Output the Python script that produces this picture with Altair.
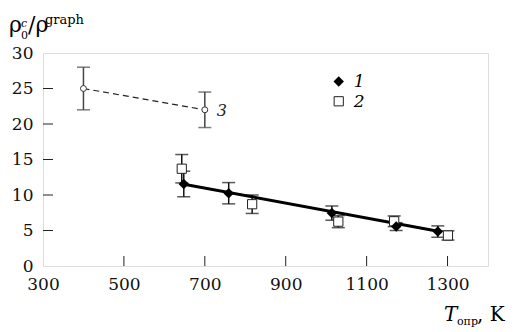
import altair as alt
import pandas as pd

# Series 1 (filled diamonds)
T1 = [648, 759, 1014, 1173, 1276]
v1 = [11.55, 10.25, 7.45, 5.55, 4.85]
e1 = [1.8, 1.5, 1.0, 0.55, 0.8]
# Series 2 (open squares)
T2 = [643, 817, 1030, 1168, 1301]
v2 = [13.7, 8.7, 6.25, 6.3, 4.3]
e2 = [2.0, 1.3, 0.85, 0.75, 0.65]
# Series 3 (open circles, dashed)
T3 = [400, 700]
v3 = [25.0, 22.0]
e3 = [3.0, 2.5]
# linear fit through series 1
fit_T = [645, 1280]
fit_v = [11.55, 4.85]

x_ticks = [300, 500, 700, 900, 1100, 1300]
y_ticks = [0, 5, 10, 15, 20, 25, 30]
legend_T = [1031, 1031]
legend_v = [26.0, 23.2]
legend_lbl = ["1", "2"]

FONT = "DejaVu Serif"
W, H = 445, 213

d1 = pd.DataFrame({"T": T1, "v": v1, "lo": [a - b for a, b in zip(v1, e1)], "hi": [a + b for a, b in zip(v1, e1)]})
d2 = pd.DataFrame({"T": T2, "v": v2, "lo": [a - b for a, b in zip(v2, e2)], "hi": [a + b for a, b in zip(v2, e2)]})
d3 = pd.DataFrame({"T": T3, "v": v3, "lo": [a - b for a, b in zip(v3, e3)], "hi": [a + b for a, b in zip(v3, e3)]})
dfit = pd.DataFrame({"T": fit_T, "v": fit_v})

xs = alt.Scale(domain=[300, 1400], nice=False, zero=False)
ys = alt.Scale(domain=[0, 30], nice=False, zero=False)

XAX = alt.Axis(values=x_ticks, title=None, ticks=False, grid=False, domain=False, format="d",
               labelFont=FONT, labelFontSize=17, labelColor="#111", labelPadding=10,
               labelFlush=False, labelOverlap=False)
YAX = alt.Axis(values=y_ticks, title=None, ticks=False, grid=False, domain=False, format="d",
               labelFont=FONT, labelFontSize=17, labelColor="#111", labelPadding=10,
               labelFlush=False, labelOverlap=False)


def X(f="T"):
    return alt.X(f + ":Q", scale=xs, axis=XAX)


def Y(f="v"):
    return alt.Y(f + ":Q", scale=ys, axis=YAX)


def errbars(df, color, width=13):
    base = alt.Chart(df)
    r = base.mark_rule(color=color, strokeWidth=1.5).encode(x=X(), y=Y("lo"), y2="hi:Q")
    t1 = base.mark_tick(color=color, orient="horizontal", size=width, thickness=1.5).encode(x=X(), y=Y("lo"))
    t2 = base.mark_tick(color=color, orient="horizontal", size=width, thickness=1.5).encode(x=X(), y=Y("hi"))
    return r + t1 + t2


xt = alt.Chart(pd.DataFrame({"T": x_ticks[1:]})).mark_rule(color="#222", strokeWidth=1).encode(
    x=X(), y=alt.value(H), y2=alt.value(H - 10))
yt = alt.Chart(pd.DataFrame({"v": y_ticks[1:-1]})).mark_rule(color="#222", strokeWidth=1).encode(
    y=Y(), x=alt.value(0), x2=alt.value(10))

line3 = alt.Chart(d3).mark_line(color="#222", strokeWidth=1.2, strokeDash=[6, 4]).encode(x=X(), y=Y())
pts3 = alt.Chart(d3).mark_point(shape="circle", size=35, filled=True, fill="white", stroke="#333",
                                strokeWidth=1, opacity=1).encode(x=X(), y=Y())

fit = alt.Chart(dfit).mark_line(color="black", strokeWidth=3).encode(x=X(), y=Y())

pts2 = alt.Chart(d2).mark_point(shape="square", size=85, filled=True, fill="white", stroke="#222",
                                strokeWidth=1, opacity=1).encode(x=X(), y=Y())
pts1 = alt.Chart(d1).mark_point(shape="diamond", size=110, filled=True, color="black", opacity=1).encode(x=X(), y=Y())

dleg = pd.DataFrame({"T": legend_T, "v": legend_v, "lbl": legend_lbl})
leg1 = alt.Chart(dleg.iloc[[0]]).mark_point(shape="diamond", size=110, filled=True, color="black", opacity=1).encode(x=X(), y=Y())
leg2 = alt.Chart(dleg.iloc[[1]]).mark_point(shape="square", size=85, filled=True, fill="white", stroke="#222",
                                            strokeWidth=1, opacity=1).encode(x=X(), y=Y())
legtxt = alt.Chart(dleg).mark_text(font=FONT, fontSize=17, fontStyle="italic", align="left", baseline="middle",
                                   dx=15, dy=1, color="black").encode(x=X(), y=Y(), text="lbl:N")

lbl3 = alt.Chart(pd.DataFrame({"T": [T3[1]], "v": [v3[1]], "lbl": ["3"]})).mark_text(
    font=FONT, fontSize=16, fontStyle="italic", align="left", baseline="middle", dx=12, dy=1, color="#222").encode(
    x=X(), y=Y(), text="lbl:N")

one = pd.DataFrame({"a": [0]})


def txt(s, x, y, size, style="normal", align="left"):
    return alt.Chart(one).mark_text(text=s, font=FONT, fontSize=size, fontStyle=style, align=align,
                                    baseline="alphabetic", color="black").encode(x=alt.value(x), y=alt.value(y))


ytitle = (txt("ρ", -34, -21, 22) + txt("0", -22, -14, 11) + txt("c", -22, -26, 11, "italic")
          + txt("/ρ", -15, -21, 22) + txt("graph", 2, -29, 13))
xtitle = txt("T", 401, 268, 20, "italic") + txt("опр", 414, 272, 11) + txt(", K", 434, 268, 20)

chart = alt.layer(
    xt, yt, errbars(d3, "#444"), line3, pts3, errbars(d1, "#111"), errbars(d2, "#111"),
    fit, pts2, pts1, leg1, leg2, legtxt, lbl3, ytitle, xtitle
).properties(
    width=W, height=H,
    autosize=alt.AutoSizeParams(type="none"),
    padding={"left": 43, "top": 53, "right": 32, "bottom": 66},
).configure_view(stroke="#333", strokeWidth=1.2).configure(background="white")

chart.save("out.html", embed_options={"renderer": "svg", "actions": False})
